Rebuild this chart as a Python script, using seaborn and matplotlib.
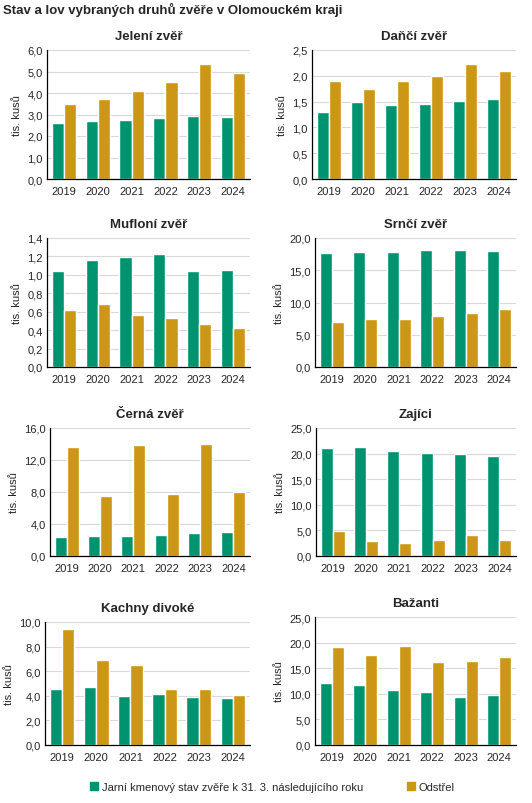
import numpy as np
import pandas as pd
import seaborn as sns
import matplotlib
matplotlib.use("Agg")
import matplotlib.pyplot as plt
from matplotlib.patches import Patch

sns.set_theme(style="white")
plt.rcParams['font.family'] = ['Liberation Sans', 'DejaVu Sans']

years = ["2019", "2020", "2021", "2022", "2023", "2024"]
series = ["Jarní kmenový stav zvěře k 31. 3. následujícího roku", "Odstřel"]
colors = ["#00936f", "#cc9616"]

# tis. kusů
jeleni_stav = [2.60, 2.69, 2.74, 2.83, 2.92, 2.87]
jeleni_lov = [3.48, 3.71, 4.08, 4.50, 5.33, 4.91]
danci_stav = [1.29, 1.50, 1.44, 1.46, 1.52, 1.56]
danci_lov = [1.89, 1.74, 1.89, 1.99, 2.22, 2.09]
mufloni_stav = [1.04, 1.16, 1.19, 1.23, 1.04, 1.05]
mufloni_lov = [0.62, 0.68, 0.56, 0.53, 0.47, 0.42]
srnci_stav = [17.67, 17.83, 17.83, 18.14, 18.14, 17.98]
srnci_lov = [6.98, 7.44, 7.44, 7.91, 8.37, 8.99]
cerna_stav = [2.37, 2.49, 2.49, 2.62, 2.87, 2.99]
cerna_lov = [13.59, 7.48, 13.84, 7.73, 13.97, 7.98]
zajici_stav = [21.04, 21.23, 20.45, 20.06, 19.87, 19.48]
zajici_lov = [4.87, 2.92, 2.53, 3.12, 4.09, 3.12]
kachny_stav = [4.54, 4.70, 3.97, 4.14, 3.89, 3.81]
kachny_lov = [9.41, 6.89, 6.49, 4.54, 4.54, 4.05]
bazanti_stav = [12.08, 11.69, 10.71, 10.32, 9.35, 9.74]
bazanti_lov = [19.09, 17.53, 19.29, 16.17, 16.36, 17.14]

panels = [
    ("Jelení zvěř", jeleni_stav, jeleni_lov, 6.0, 1.0),
    ("Daňčí zvěř", danci_stav, danci_lov, 2.5, 0.5),
    ("Mufloní zvěř", mufloni_stav, mufloni_lov, 1.4, 0.2),
    ("Srnčí zvěř", srnci_stav, srnci_lov, 20.0, 5.0),
    ("Černá zvěř", cerna_stav, cerna_lov, 16.0, 4.0),
    ("Zajíci", zajici_stav, zajici_lov, 25.0, 5.0),
    ("Kachny divoké", kachny_stav, kachny_lov, 10.0, 2.0),
    ("Bažanti", bazanti_stav, bazanti_lov, 25.0, 5.0),
]

W, H = 532, 804
fig = plt.figure(figsize=(W / 100, H / 100), dpi=100)

# axes boxes in pixels: left, top, right, bottom
boxes = [
    (47, 51, 250, 180), (312, 51, 516, 180),
    (47, 239, 250, 368), (315, 239, 516, 368),
    (50, 429, 250, 557), (316, 429, 516, 557),
    (45, 623, 250, 746), (315, 618, 516, 746),
]

for (name, stav, lov, ymax, step), (l, t, r, b) in zip(panels, boxes):
    ax = fig.add_axes([l / W, 1 - b / H, (r - l) / W, (b - t) / H])
    df = pd.DataFrame({
        "rok": years * 2,
        "serie": [series[0]] * 6 + [series[1]] * 6,
        "hodnota": stav + lov,
    })
    sns.barplot(data=df, x="rok", y="hodnota", hue="serie", palette=colors,
                width=0.72, gap=0, saturation=1, legend=False, ax=ax)
    ticks = np.arange(0, ymax + step / 2, step)
    ax.set_ylim(0, ymax)
    ax.set_yticks(ticks)
    ax.set_yticklabels([f"{v:.1f}".replace(".", ",") for v in ticks], fontsize=8)
    ax.tick_params(axis="x", labelsize=8, length=0, pad=5)
    ax.tick_params(axis="y", length=0, pad=3)
    ax.yaxis.grid(True, color="#d9d9d9", linewidth=0.8)
    ax.set_axisbelow(True)
    ax.set_xlabel("")
    ax.set_ylabel("tis. kusů", fontsize=8)
    ax.set_title(name, fontsize=9.5, fontweight="bold", pad=8)
    sns.despine(ax=ax, top=True, right=True)
    for s in ("left", "bottom"):
        ax.spines[s].set_color("black")
        ax.spines[s].set_linewidth(0.9)

fig.text(3 / W, 1 - 10 / H, "Stav a lov vybraných druhů zvěře v Olomouckém kraji",
         fontsize=9.5, fontweight="bold", va="center", ha="left")

handles = [Patch(color=c) for c in colors]
fig.legend(handles, series, loc="center", bbox_to_anchor=(0.512, 1 - 788 / H),
           ncol=2, frameon=False, fontsize=8, handlelength=0.7, handleheight=0.7,
           handletextpad=0.3, columnspacing=4)

fig.savefig("out.png", dpi=100)
